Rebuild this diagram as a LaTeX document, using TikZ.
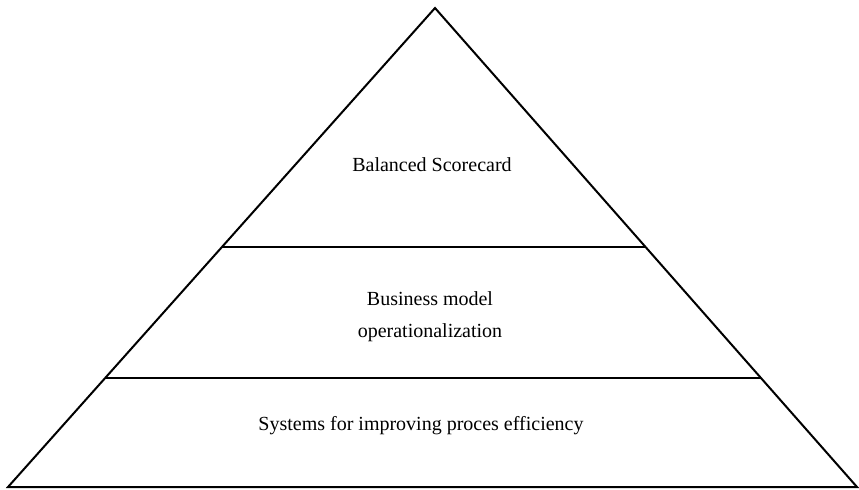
\documentclass[tikz,border=0pt]{standalone}
\usepackage{fontspec}
\setmainfont{Liberation Serif}
\usepackage{tikz}
\usetikzlibrary{calc, positioning}

\begin{document}
\begin{tikzpicture}[
  x=0.6pt, y=-0.6pt,
  outline/.style={draw, line width=1.2pt, line join=miter},
  divider/.style={draw, line width=0.8pt},
  lvltext/.style={align=center, font=\fontsize{12}{14}\selectfont, inner sep=2pt}
]
  \useasboundingbox (0,0) rectangle (859,489);

  % corners of the pyramid
  \coordinate (apex) at (435,8);
  \coordinate (bl) at (8,487);
  \coordinate (br) at (857,487);

  % level dividers on the sides
  \coordinate (d1l) at ($(apex)!0.499!(bl)$);
  \coordinate (d1r) at ($(apex)!0.499!(br)$);
  \coordinate (d2l) at ($(apex)!0.7724!(bl)$);
  \coordinate (d2r) at ($(apex)!0.7724!(br)$);

  \draw[outline] (apex) -- (bl) -- (br) -- cycle;
  \draw[divider] (d1l) -- (d1r);
  \draw[divider] (d2l) -- (d2r);

  \node[lvltext] (top) at (432,165) {Balanced Scorecard};
  \node[lvltext] (mid) at (430,317) {Business model\\[5pt] operationalization};
  \node[lvltext] (base) at (421,426) {Systems for improving proces efficiency};
\end{tikzpicture}
\end{document}
